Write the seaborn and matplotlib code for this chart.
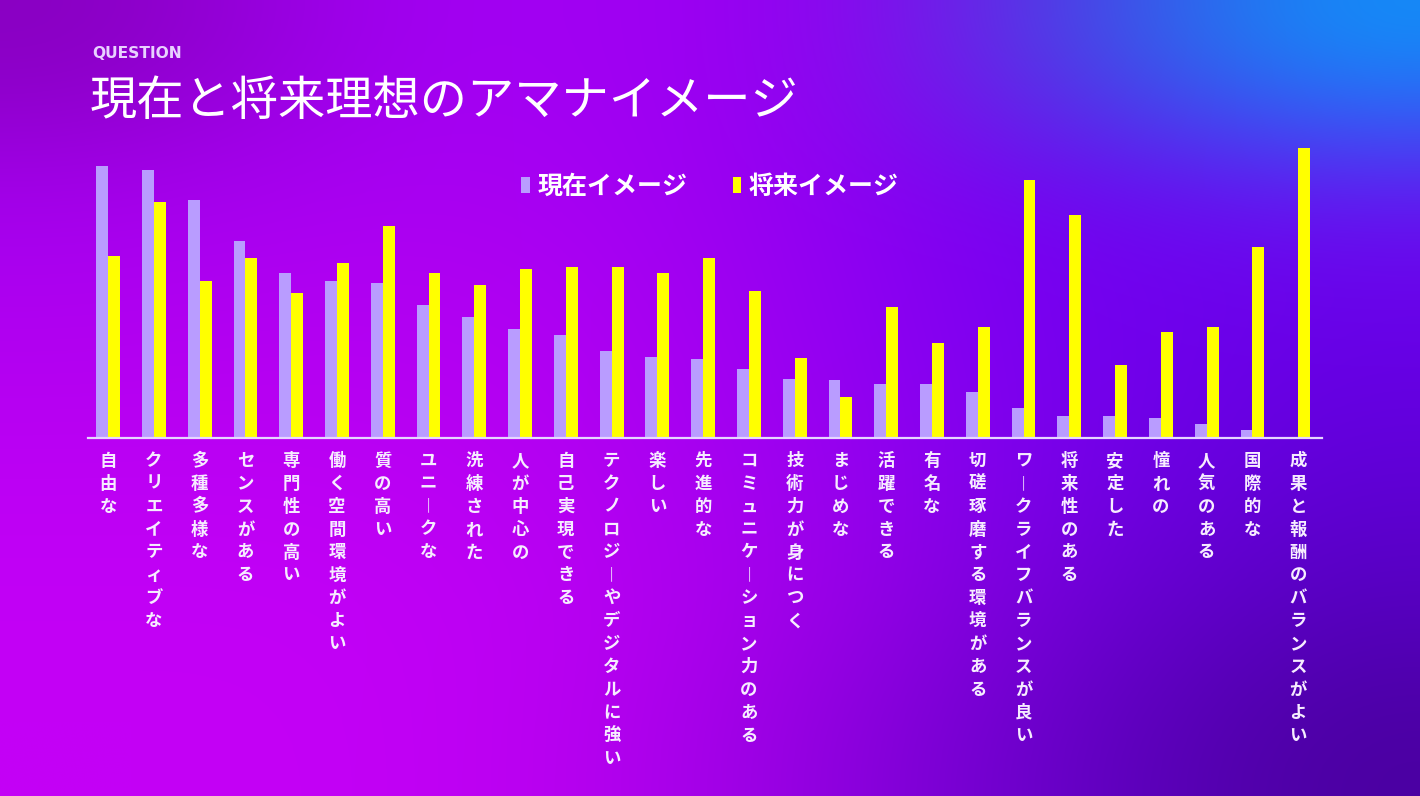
import numpy as np
import pandas as pd
import matplotlib
matplotlib.use("Agg")
import matplotlib.pyplot as plt
from matplotlib.patches import Patch
from matplotlib.colors import to_rgb
import seaborn as sns

# データ（画像から読み取った棒の高さ）
categories = ["自由な", "クリエイティブな", "多種多様な", "センスがある", "専門性の高い",
              "働く空間環境がよい", "質の高い", "ユニークな", "洗練された", "人が中心の",
              "自己実現できる", "テクノロジーやデジタルに強い", "楽しい", "先進的な",
              "コミュニケーション力のある", "技術力が身につく", "まじめな", "活躍できる",
              "有名な", "切磋琢磨する環境がある", "ワークライフバランスが良い", "将来性のある",
              "安定した", "憧れの", "人気のある", "国際的な", "成果と報酬のバランスがよい"]
current = [272, 268, 238, 197, 165, 157, 155, 133, 121, 109, 103, 87, 81, 79,
           69, 59, 58, 54, 54, 46, 30, 22, 22, 20, 14, 8, 0]
future = [182, 236, 157, 180, 145, 175, 212, 165, 153, 169, 171, 171, 165, 180,
          147, 80, 41, 131, 95, 111, 258, 223, 73, 106, 111, 191, 290]
series_names = ["現在イメージ", "将来イメージ"]

df = pd.DataFrame({
    "cat": categories * 2,
    "series": [series_names[0]] * len(categories) + [series_names[1]] * len(categories),
    "value": current + future,
})

sns.set_theme(style="white")
plt.rcParams["font.family"] = ["Noto Sans CJK JP", "DejaVu Sans"]

LAV = "#B99CFF"
YEL = "#FFFF00"

fig = plt.figure(figsize=(14.2, 7.96), dpi=100)

# 背景グラデーション
grid = [
    ["#8800C0", "#A000F0", "#A400F4", "#9000F0", "#4A40E0", "#1090F8"],
    ["#A400EE", "#AA00F2", "#A800F2", "#9000F2", "#7000F0", "#6A10F0"],
    ["#B000F0", "#B400F2", "#B000F2", "#9400F2", "#7400F0", "#6800E8"],
    ["#BC00F4", "#BC00F4", "#B400F2", "#9A00F0", "#7600EC", "#6000D8"],
    ["#C200F6", "#C200F6", "#BA00F2", "#9C00E8", "#7000D8", "#5600C0"],
    ["#C400F6", "#C400F6", "#B800F0", "#9000E0", "#6400C8", "#4A00A0"],
]
bg = np.array([[to_rgb(c) for c in row] for row in grid])
bgax = fig.add_axes([0, 0, 1, 1], zorder=-1)
bgax.imshow(bg, aspect="auto", interpolation="bicubic", extent=[0, 1, 0, 1])
bgax.axis("off")

ax = fig.add_axes([88 / 1420, 1 - 438 / 796, (1322 - 88) / 1420, (438 - 140) / 796])
ax.set_facecolor("none")
sns.barplot(data=df, x="cat", y="value", hue="series", order=categories,
            palette=[LAV, YEL], width=0.52, saturation=1, legend=False, ax=ax,
            edgecolor="none", linewidth=0)
ax.set_xlim(-0.44, 26.52)
ax.set_ylim(0, 298)
for s in ["top", "left", "right"]:
    ax.spines[s].set_visible(False)
ax.spines["bottom"].set_color("#E6D6FF")
ax.spines["bottom"].set_linewidth(1.6)
ax.set_yticks([])
ax.set_xlabel("")
ax.set_ylabel("")

labels = ["\n".join(c.replace("ー", "︱")) for c in categories]
ax.set_xticks(range(len(categories)))
ax.set_xticklabels(labels, fontsize=12.5, color="#F6ECFF", linespacing=1.35,
                   va="top", ha="center", fontweight="bold")
ax.tick_params(axis="x", length=0, pad=10)

handles = [Patch(facecolor=LAV, edgecolor="none"), Patch(facecolor=YEL, edgecolor="none")]
fig.legend(handles, series_names, loc="center", bbox_to_anchor=(0.5, 1 - 187 / 796),
           ncol=2, frameon=False, prop={"size": 18, "weight": "bold"}, labelcolor="white",
           handlelength=0.35, handleheight=0.6, handletextpad=0.3, columnspacing=1.8)

fig.text(92 / 1420, 1 - 54 / 796, "QUESTION", fontsize=11.2, color="#E8D2FF",
         fontfamily="DejaVu Sans", fontweight="bold", va="center", ha="left")
fig.text(90 / 1420, 1 - 102 / 796, "現在と将来理想のアマナイメージ", fontsize=34,
         color="white", va="center", ha="left")

fig.savefig("out.png", dpi=100)
